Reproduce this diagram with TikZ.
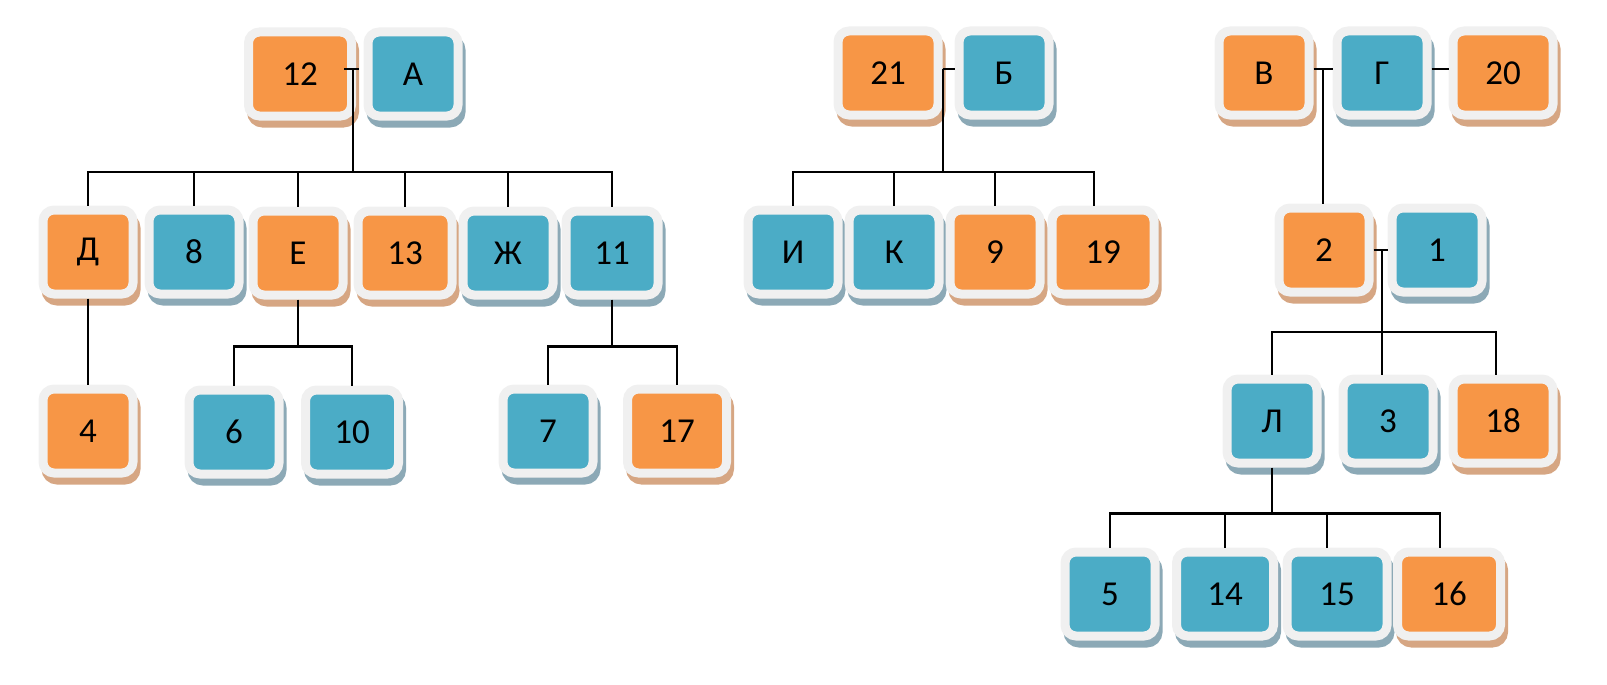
\documentclass[tikz,border=0pt]{standalone}
\usepackage{fontspec}
\setmainfont{Carlito}
\definecolor{boxorange}{HTML}{F79646}
\definecolor{boxblue}{HTML}{4BACC6}
\definecolor{rim}{HTML}{F0F0F0}
\definecolor{orangeshade}{HTML}{D6A683}
\definecolor{blueshade}{HTML}{8CA9B6}

\begin{document}
\begin{tikzpicture}[x=1pt,y=-1pt]
            \tikzset{every node/.style={rectangle, rounded corners=11pt, draw=rim, line width=9pt, minimum width=90pt, minimum height=84pt, inner sep=0pt, font=\fontsize{35}{35}\selectfont},
                     org/.style={fill=boxorange, preaction={fill=orangeshade, draw=orangeshade, transform canvas={shift={(3pt,-7pt)}}}},
                     blu/.style={fill=boxblue, preaction={fill=blueshade, draw=blueshade, transform canvas={shift={(3pt,-7pt)}}}},
                     wd/.style={minimum width=#1pt},
                     link/.style={line width=2.8pt, black}}
            \useasboundingbox (0,0) rectangle (1607,685);
            \node[org, wd=103] (n12) at (300,74) {12};
            \node[blu] (nA) at (413,74) {А};
            \node[org] (nD) at (88,252) {Д};
            \node[blu] (n8) at (194,252) {8};
            \node[org] (nE) at (298,253) {Е};
            \node[org, wd=94] (n13) at (405,253) {13};
            \node[blu] (nZh) at (508,253) {Ж};
            \node[blu, wd=92] (n11) at (612,253) {11};
            \node[org] (n4) at (88,431) {4};
            \node[blu] (n6) at (234,432) {6};
            \node[blu, wd=93] (n10) at (352,432) {10};
            \node[blu] (n7) at (548,431) {7};
            \node[org, wd=99] (n17) at (677,431) {17};
            \node[org, wd=100] (n21) at (888,73) {21};
            \node[blu] (nB) at (1004,73) {Б};
            \node[blu] (nI) at (793,252) {И};
            \node[blu] (nK) at (894,252) {К};
            \node[org] (n9) at (995,252) {9};
            \node[org, wd=102] (n19) at (1103,252) {19};
            \node[org] (nV) at (1264,73) {В};
            \node[blu] (nG) at (1382,73) {Г};
            \node[org, wd=100] (n20) at (1503,73) {20};
            \node[org] (n2) at (1324,250) {2};
            \node[blu] (n1) at (1437,250) {1};
            \node[blu] (nL) at (1272,421) {Л};
            \node[blu] (n3) at (1388,421) {3};
            \node[org, wd=100] (n18) at (1503,421) {18};
            \node[blu] (n5) at (1110,594) {5};
            \node[blu, wd=97] (n14) at (1225,594) {14};
            \node[blu, wd=100] (n15) at (1337,594) {15};
            \node[org, wd=103] (n16) at (1449,594) {16};

            \draw[link] ([xshift=-12pt,yshift=5pt]n12.east) -- ([xshift=-5pt,yshift=5pt]nA.west);
            \coordinate (jA) at (353,69);
            \draw[link] (jA) -- ++(0,103) coordinate (bA);
            \foreach \c in {nD,n8,nE,n13,nZh,n11} \draw[link] (bA) -| (\c.north);
            \draw[link] (nD) -- (n4);
            \draw[link] (nE.south) -- ++(0,47) coordinate (bE);
            \foreach \c in {n6,n10} \draw[link] (bE) -| (\c.north);
            \draw[link] (n11.south) -- ++(0,47) coordinate (b11);
            \foreach \c in {n7,n17} \draw[link] (b11) -| (\c.north);

            \draw[link] ([yshift=4pt]n21.east) -- ([yshift=4pt]nB.west);
            \coordinate (jB) at (943,69);
            \draw[link] (jB) -- ++(0,103) coordinate (bB);
            \foreach \c in {nI,nK,n9} \draw[link] (bB) -| (\c.north);
            \draw[link] (bB) -| ([xshift=-9pt]n19.north);

            \draw[link] ([yshift=4pt]nV.east) -- ([yshift=4pt]nG.west);
            \draw[link] ([yshift=4pt]nG.east) -- ([yshift=4pt]n20.west);
            \coordinate (jV) at (1323,69);
            \draw[link] (jV) -- (jV |- n2.north);
            \draw[link] (n2.east) -- (n1.west);
            \coordinate (j2) at (1382,250);
            \draw[link] (j2) -- ++(0,82) coordinate (b2);
            \draw[link] (b2) -- (b2 |- n3.north);
            \draw[link] (b2) -| (nL.north);
            \draw[link] (b2) -| ([xshift=-7pt]n18.north);
            \draw[link] (nL.south) -- ++(0,46) coordinate (bL);
            \foreach \c in {n5,n14} \draw[link] (bL) -| (\c.north);
            \draw[link] (bL) -| ([xshift=-10pt]n15.north);
            \draw[link] (bL) -| ([xshift=-9pt]n16.north);
        \end{tikzpicture}
\end{document}
